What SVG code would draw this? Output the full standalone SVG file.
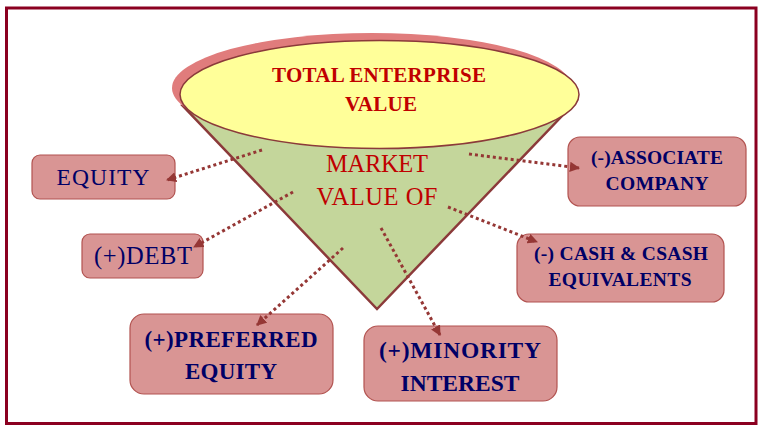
<svg xmlns="http://www.w3.org/2000/svg" width="762" height="432" viewBox="0 0 762 432">
<defs>
<style>
.box{fill:#d99594;stroke:#b25350;stroke-width:1.2}
.lbl{font-family:"Liberation Serif","DejaVu Serif",serif;fill:#000066;text-anchor:middle}
.b{font-weight:bold}
.conn{fill:none;stroke:#953735;stroke-width:3;stroke-dasharray:3 3}
.red{font-family:"Liberation Serif","DejaVu Serif",serif;fill:#c00000;text-anchor:middle}
</style>
<marker id="ah" viewBox="0 0 10 10" refX="9" refY="5" markerWidth="3.4" markerHeight="3.4" markerUnits="strokeWidth" orient="auto">
<path d="M0,0 L10,5 L0,10 z" fill="#953735"/>
</marker>
</defs>
<rect x="0" y="0" width="762" height="432" fill="#ffffff"/>
<rect x="6.5" y="8" width="749.5" height="415.5" fill="none" stroke="#8b0020" stroke-width="3"/>
<g id="cone">
<polygon points="183,106 562,116 377,309" fill="#c4d69b" stroke="#8b3a3a" stroke-width="2.5" stroke-linejoin="miter"/>
<ellipse cx="372" cy="88" rx="200" ry="55" fill="#e07c7c"/>
<ellipse cx="379.5" cy="94.5" rx="199.5" ry="54" fill="#ffff99" stroke="#8b3a3a" stroke-width="1.5"/>
<text class="red b" x="379" y="82" font-size="21" textLength="214">TOTAL ENTERPRISE</text>
<text class="red b" x="381" y="111" font-size="21" textLength="72">VALUE</text>
<text class="red" x="377" y="172" font-size="24.5" textLength="102">MARKET</text>
<text class="red" x="377" y="205" font-size="24.5" textLength="121">VALUE OF</text>
</g>
<g id="equity">
<rect class="box" x="32" y="155" width="143" height="44" rx="8"/>
<text class="lbl" x="103" y="185" font-size="23.5" textLength="93">EQUITY</text>
</g>
<g id="debt">
<rect class="box" x="82" y="234" width="121" height="44" rx="8"/>
<text class="lbl" x="143" y="264" font-size="24.5" textLength="98">(+)DEBT</text>
</g>
<g id="associate">
<rect class="box" x="568" y="137" width="178" height="69" rx="12"/>
<text class="lbl b" x="657" y="164" font-size="19.5" textLength="132">(-)ASSOCIATE</text>
<text class="lbl b" x="657" y="190" font-size="19.5" textLength="103">COMPANY</text>
</g>
<g id="cash">
<rect class="box" x="517" y="234" width="207" height="68" rx="12"/>
<text class="lbl b" x="621" y="260" font-size="19.5" textLength="174">(-) CASH &amp; CSASH</text>
<text class="lbl b" x="620" y="286" font-size="19.5" textLength="143">EQUIVALENTS</text>
</g>
<g id="preferred">
<rect class="box" x="130" y="314" width="203" height="80" rx="14"/>
<text class="lbl b" x="231" y="347" font-size="23" textLength="173">(+)PREFERRED</text>
<text class="lbl b" x="231" y="379" font-size="23" textLength="92">EQUITY</text>
</g>
<g id="minority">
<rect class="box" x="364" y="326" width="193" height="75" rx="14"/>
<text class="lbl b" x="460" y="358" font-size="23.5" textLength="162">(+)MINORITY</text>
<text class="lbl b" x="460" y="391" font-size="23.5" textLength="119">INTEREST</text>
</g>
<g id="connectors">
<line class="conn" x1="262" y1="150" x2="167" y2="180" marker-end="url(#ah)"/>
<line class="conn" x1="293" y1="192" x2="194" y2="247" marker-end="url(#ah)"/>
<line class="conn" x1="343" y1="248" x2="257" y2="325" marker-end="url(#ah)"/>
<line class="conn" x1="381" y1="228" x2="440" y2="335" marker-end="url(#ah)"/>
<line class="conn" x1="469" y1="154" x2="579" y2="168" marker-end="url(#ah)"/>
<line class="conn" x1="448" y1="207" x2="537" y2="242" marker-end="url(#ah)"/>
</g>
</svg>
